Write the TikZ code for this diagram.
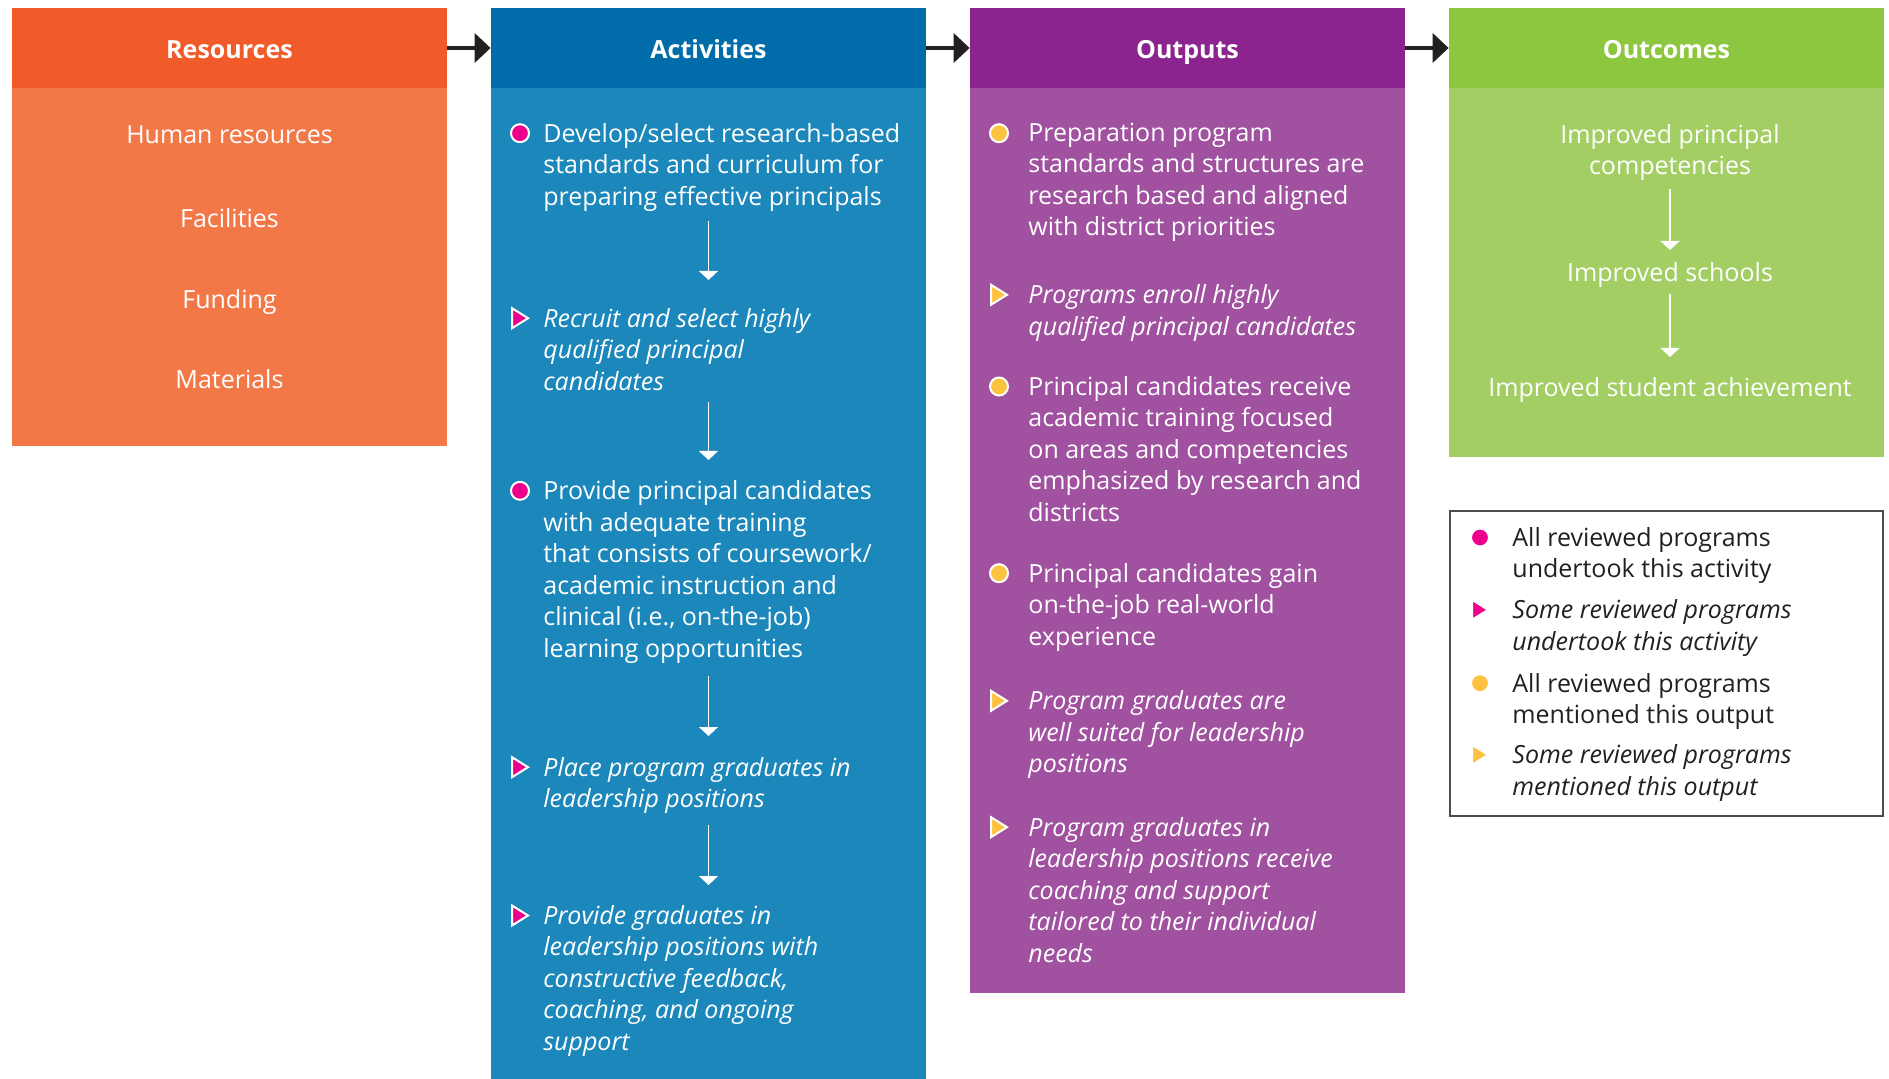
\documentclass[tikz,border=0pt]{standalone}
\usepackage{fontspec}
\setmainfont{Open Sans}
\usetikzlibrary{arrows.meta,calc,positioning}
\definecolor{resdark}{HTML}{F15A29}
\definecolor{reslight}{HTML}{F37848}
\definecolor{actdark}{HTML}{006DAA}
\definecolor{actlight}{HTML}{1B87BB}
\definecolor{outdark}{HTML}{8C2490}
\definecolor{outlight}{HTML}{A0519F}
\definecolor{ocdark}{HTML}{8DC63F}
\definecolor{oclight}{HTML}{A3CE63}
\definecolor{dotpink}{HTML}{EC008C}
\definecolor{dotgold}{HTML}{FDC23E}
\definecolor{ink}{HTML}{231F20}
\newcommand{\dotmark}[3]{\filldraw[fill=#1,draw=white,line width=1pt] ([xshift=#3,yshift=-5.25pt]#2.north west) circle (4.5pt);}
\newcommand{\trimark}[3]{\filldraw[fill=#1,draw=white,line width=1pt,shift={([xshift=#3,yshift=-5.25pt]#2.north west)}] (-4pt,-5pt) -- (4pt,0pt) -- (-4pt,5pt) -- cycle;}

\begin{document}
\begin{tikzpicture}[x=0.5pt,y=-0.5pt,
  hdbox/.style={minimum width=217.5pt,minimum height=40pt,inner sep=0pt,text=white,font=\bfseries\fontsize{12.5}{15}\selectfont,text height=13pt,text depth=2pt},
  txt/.style={inner sep=0pt,text=white,font=\fontsize{12.5}{15.75}\selectfont,
    execute at end node=\rule[-4pt]{0pt}{4pt}},
  item/.style={txt,anchor=north west,align=left},
  ctr/.style={txt,anchor=north,align=center},
  link/.style={draw=ink,line width=2pt,-{Triangle[length=8pt,width=14.5pt]}},
  wflow/.style={draw=white,line width=0.7pt,-{Triangle[length=4.5pt,width=9.5pt]}}]
 \useasboundingbox (0,0) rectangle (1889,1079);
 \fill[reslight] (12,88) rectangle (447,446);
 \fill[actlight] (491,88) rectangle (926,1079);
 \fill[outlight] (970,88) rectangle (1405,993);
 \fill[oclight] (1449,88) rectangle (1884,457);
 \node[hdbox,fill=resdark] (reshd) at (229.5,48) {Resources};
 \node[hdbox,fill=actdark] (acthd) at (708.5,48) {Activities};
 \node[hdbox,fill=outdark] (outhd) at (1187.5,48) {Outputs};
 \node[hdbox,fill=ocdark] (ochd) at (1666.5,48) {Outcomes};
 \draw[link] (reshd) -- (acthd);
 \draw[link] (acthd) -- (outhd);
 \draw[link] (outhd) -- (ochd);

 \foreach \t/\y [count=\i] in {Human resources/125,Facilities/208.5,Funding/289.5,Materials/369}
  \node[ctr] (res\i) at (229.5,\y) {\t};

 \node[item] (act1) at (543,122.7) {Develop/select research-based\\standards and curriculum for\\preparing effective principals};
 \node[item] (act2) at (543,307.7) {\itshape Recruit and select highly\\\itshape qualified principal\\\itshape candidates};
 \node[item] (act3) at (543,480.3) {Provide principal candidates\\with adequate training\\that consists of coursework/\\academic instruction and\\clinical (i.e., on-the-job)\\learning opportunities};
 \node[item] (act4) at (543,756.7) {\itshape Place program graduates in\\\itshape leadership positions};
 \node[item] (act5) at (543,905) {\itshape Provide graduates in\\\itshape leadership positions with\\\itshape constructive feedback,\\\itshape coaching, and ongoing\\\itshape support};
 \dotmark{dotpink}{act1}{-11.5pt}
 \trimark{dotpink}{act2}{-11.5pt}
 \dotmark{dotpink}{act3}{-11.5pt}
 \trimark{dotpink}{act4}{-11.5pt}
 \trimark{dotpink}{act5}{-11.5pt}
 \draw[wflow,shorten <=3.8pt,shorten >=13.85pt] (act1.south -| acthd) -- (act2.north -| acthd);
 \draw[wflow,shorten <=1.6pt,shorten >=10.15pt] (act2.south -| acthd) -- (act3.north -| acthd);
 \draw[wflow,shorten <=5.2pt,shorten >=10.35pt] (act3.south -| acthd) -- (act4.north -| acthd);
 \draw[wflow,shorten <=4.5pt,shorten >=10pt] (act4.south -| acthd) -- (act5.north -| acthd);

 \node[item] (out1) at (1028,122.7) {Preparation program\\standards and structures are\\research based and aligned\\with district priorities};
 \node[item] (out2) at (1028,284.3) {\itshape Programs enroll highly\\\itshape qualified principal candidates};
 \node[item] (out3) at (1028,376) {Principal candidates receive\\academic training focused\\on areas and competencies\\emphasized by research and\\districts};
 \node[item] (out4) at (1028,562.7) {Principal candidates gain\\on-the-job real-world\\experience};
 \node[item] (out5) at (1028,690.3) {\itshape Program graduates are\\\itshape well suited for leadership\\\itshape positions};
 \node[item] (out6) at (1028,816.7) {\itshape Program graduates in\\\itshape leadership positions receive\\\itshape coaching and support\\\itshape tailored to their individual\\\itshape needs};
 \dotmark{dotgold}{out1}{-14.5pt}
 \trimark{dotgold}{out2}{-14.5pt}
 \dotmark{dotgold}{out3}{-14.5pt}
 \dotmark{dotgold}{out4}{-14.5pt}
 \trimark{dotgold}{out5}{-14.5pt}
 \trimark{dotgold}{out6}{-14.5pt}

 \node[ctr] (oc1) at (1670,124) {Improved principal\\competencies};
 \node[ctr] (oc2) at (1670,261.7) {Improved schools};
 \node[ctr] (oc3) at (1670,376.7) {Improved student achievement};
 \draw[wflow,shorten <=2.85pt,shorten >=5.85pt] (oc1) -- (oc2);
 \draw[wflow,shorten <=2.15pt,shorten >=9.85pt] (oc2) -- (oc3);

 \draw[ink!80,line width=0.8pt] (1450,511) rectangle (1883,816);
 \node[item,text=ink] (leg1) at (1512,527) {All reviewed programs\\undertook this activity};
 \node[item,text=ink] (leg2) at (1512,599.3) {\itshape Some reviewed programs\\\itshape undertook this activity};
 \node[item,text=ink] (leg3) at (1512,672.7) {All reviewed programs\\mentioned this output};
 \node[item,text=ink] (leg4) at (1512,744.3) {\itshape Some reviewed programs\\\itshape mentioned this output};
 \dotmark{dotpink}{leg1}{-16pt}
 \trimark{dotpink}{leg2}{-16pt}
 \dotmark{dotgold}{leg3}{-16pt}
 \trimark{dotgold}{leg4}{-16pt}
\end{tikzpicture}
\end{document}
